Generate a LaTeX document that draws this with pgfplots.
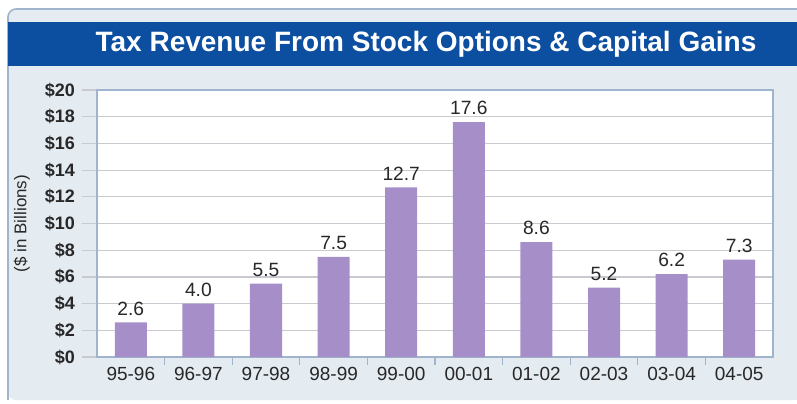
\documentclass[border=0pt]{standalone}
\usepackage{pgfplots}
\pgfplotsset{compat=1.18}
\usepackage{fontspec}
\setmainfont{Liberation Sans}
\definecolor{banner}{RGB}{12,78,160}
\definecolor{panel}{RGB}{228,235,241}
\definecolor{panelborder}{RGB}{160,180,205}
\definecolor{barc}{RGB}{166,143,200}
\definecolor{gridc}{RGB}{200,202,208}
\definecolor{txt}{RGB}{40,40,40}
\begin{document}
\begin{tikzpicture}
\path[use as bounding box] (0,0) rectangle (398.5pt,201.5pt);
\fill[panel, rounded corners=4pt] (4pt,1.5pt) rectangle (402pt,197pt);
\draw[panelborder, line width=0.8pt, rounded corners=4pt] (402pt,197pt) -- (4pt,197pt) -- (4pt,1.5pt);
\fill[banner] (4pt,168.5pt) rectangle (398.5pt,190.5pt);
\node[text=white, font=\fontsize{14}{16}\selectfont\bfseries] at (213pt,179.25pt) {Tax Revenue From Stock Options \& Capital Gains};
\begin{axis}[
  at={(48.5pt,23pt)}, anchor=south west,
  scale only axis, width=338pt, height=133.5pt,
  ybar, bar width=16pt,
  xmin=-0.5, xmax=9.5, ymin=0, ymax=20,
  axis background/.style={fill=white},
  axis line style={draw=panelborder, line width=0.6pt},
  xtick pos=bottom, ytick pos=left,
  xtick={0,...,9},
  xticklabels={95-96,96-97,97-98,98-99,99-00,00-01,01-02,02-03,03-04,04-05},
  minor x tick num=1,
  major x tick style={draw=none},
  minor x tick style={draw=panelborder, line width=0.6pt},
  minor tick length=4pt,
  ytick={0,2,...,20},
  yticklabels={\$0,\$2,\$4,\$6,\$8,\$10,\$12,\$14,\$16,\$18,\$20},
  major y tick style={draw=gridc, line width=0.6pt},
  major tick length=7.5pt,
  tick align=outside,
  ymajorgrids, grid style={draw=gridc, line width=0.6pt},
  yticklabel style={font=\fontsize{9}{10}\selectfont\bfseries, text=txt},
  xticklabel style={font=\fontsize{9.5}{10}\selectfont, text=txt, yshift=6pt},
  /pgf/number format/assume math mode=true,
  ylabel={(\$ in Billions)},
  ylabel style={at={(axis description cs:-0.111,0.5)}, anchor=center, font=\fontsize{8.5}{10}\selectfont, text=txt},
  nodes near coords,
  nodes near coords style={font=\fontsize{9.6}{10}\selectfont, text=txt, /pgf/number format/fixed, /pgf/number format/fixed zerofill, /pgf/number format/precision=1},
  clip=false,
]
\addplot[fill=barc, draw=none] coordinates {(0,2.6) (1,4.0) (2,5.5) (3,7.5) (4,12.7) (5,17.6) (6,8.6) (7,5.2) (8,6.2) (9,7.3)};
\end{axis}
\end{tikzpicture}
\end{document}
